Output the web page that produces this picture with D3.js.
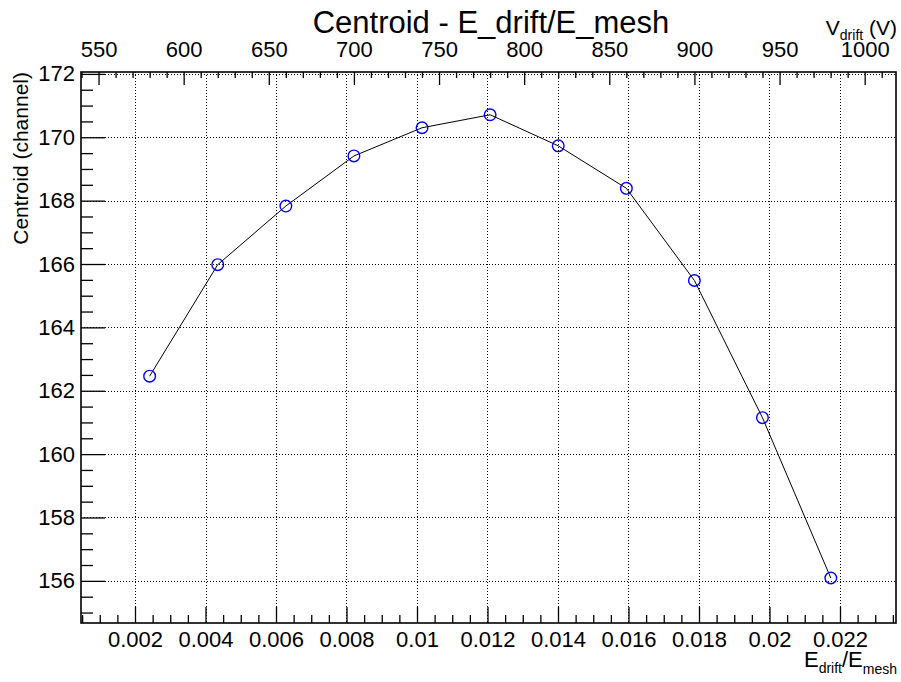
<!DOCTYPE html>
<html>
<head>
<meta charset="utf-8">
<script src="https://cdn.jsdelivr.net/npm/d3@7"></script>
<style>
  html, body { margin: 0; padding: 0; background: #fff; }
  svg { display: block; font-family: "Liberation Sans", Arial, Helvetica, sans-serif; }
</style>
</head>
<body>
<svg id="chart" width="901" height="682"></svg>
<script>
// ---- data ----
const vDrift = [580, 620, 660, 700, 740, 780, 820, 860, 900, 940, 980];
const fieldRatio = [0.002415, 0.004347, 0.006280, 0.008211, 0.010143, 0.012075, 0.014007, 0.015940, 0.017870, 0.019800, 0.021740];
const centroid = [162.46, 165.98, 167.83, 169.41, 170.30, 170.71, 169.73, 168.39, 165.48, 161.15, 156.09];

const xTicks = [0.002, 0.004, 0.006, 0.008, 0.010, 0.012, 0.014, 0.016, 0.018, 0.020, 0.022];
const xTickLabels = ["0.002", "0.004", "0.006", "0.008", "0.01", "0.012", "0.014", "0.016", "0.018", "0.02", "0.022"];
const yTicks = [156, 158, 160, 162, 164, 166, 168, 170, 172];
const yTickLabels = ["156", "158", "160", "162", "164", "166", "168", "170", "172"];
const topTicks = [550, 600, 650, 700, 750, 800, 850, 900, 950, 1000];
const topTickLabels = ["550", "600", "650", "700", "750", "800", "850", "900", "950", "1000"];

const xDomain = [0.000468, 0.023589];
const yDomain = [154.67, 172.06];
const topDomain = [539.7, 1018.4];

// ---- layout ----
const L = 81, R = 896, T = 72, B = 623;
const svg = d3.select("#chart");

const x = d3.scaleLinear().domain(xDomain).range([L, R]);
const y = d3.scaleLinear().domain(yDomain).range([B, T]);
const xt = d3.scaleLinear().domain(topDomain).range([L, R]);

// grid
const grid = svg.append("g").attr("stroke", "#000").attr("stroke-width", 1)
  .attr("stroke-dasharray", "1,2").attr("shape-rendering", "crispEdges");
grid.selectAll("line.gx").data(xTicks).join("line")
  .attr("x1", d => Math.round(x(d)) + 0.5).attr("x2", d => Math.round(x(d)) + 0.5)
  .attr("y1", T).attr("y2", B);
grid.selectAll("line.gy").data(yTicks).join("line")
  .attr("y1", d => Math.round(y(d)) + 0.5).attr("y2", d => Math.round(y(d)) + 0.5)
  .attr("x1", L).attr("x2", R);

// minor tick values
function minorVals(scale, step, majors) {
  const [a, b] = scale.domain();
  const out = [];
  const start = Math.ceil(a / step - 1e-9);
  for (let i = start; i * step <= b + 1e-12; i++) {
    const v = i * step;
    if (!majors.some(m => Math.abs(m - v) < step * 1e-3)) out.push(v);
  }
  return out;
}

function styleAxis(g, fs) {
  g.select(".domain").remove();
  g.selectAll("line").attr("stroke", "#000").attr("stroke-width", 1.3);
  g.selectAll("text").attr("fill", "#000").attr("font-size", fs)
    .attr("font-family", "'Liberation Sans', Arial, sans-serif");
}

// bottom axis
const gxMinor = svg.append("g").attr("transform", `translate(0,${B})`)
  .call(d3.axisBottom(x).tickValues(minorVals(x, 0.0005, xTicks)).tickSize(-8).tickFormat(""));
styleAxis(gxMinor, 22);
const gx = svg.append("g").attr("transform", `translate(0,${B})`)
  .call(d3.axisBottom(x).tickValues(xTicks).tickSize(-16).tickPadding(8)
    .tickFormat((d, i) => xTickLabels[i]));
styleAxis(gx, 22);

// left axis
const gyMinor = svg.append("g").attr("transform", `translate(${L},0)`)
  .call(d3.axisLeft(y).tickValues(minorVals(y, 0.5, yTicks)).tickSize(-12).tickFormat(""));
styleAxis(gyMinor, 22);
const gy = svg.append("g").attr("transform", `translate(${L},0)`)
  .call(d3.axisLeft(y).tickValues(yTicks).tickSize(-24).tickPadding(6)
    .tickFormat((d, i) => yTickLabels[i]));
styleAxis(gy, 22);

// top axis
const gtMinor = svg.append("g").attr("transform", `translate(0,${T})`)
  .call(d3.axisTop(xt).tickValues(minorVals(xt, 10, topTicks)).tickSize(-6).tickFormat(""));
styleAxis(gtMinor, 22);
const gt = svg.append("g").attr("transform", `translate(0,${T})`)
  .call(d3.axisTop(xt).tickValues(topTicks).tickSize(-13).tickPadding(15)
    .tickFormat((d, i) => topTickLabels[i]));
styleAxis(gt, 22);

// frame
svg.append("rect").attr("x", L).attr("y", T).attr("width", R - L).attr("height", B - T)
  .attr("fill", "none").attr("stroke", "#000").attr("stroke-width", 1.6);

// line + markers
const pts = fieldRatio.map((v, i) => [v, centroid[i]]);
svg.append("path").datum(pts)
  .attr("fill", "none").attr("stroke", "#000").attr("stroke-width", 1)
  .attr("d", d3.line().x(d => x(d[0])).y(d => y(d[1])));
svg.append("g").selectAll("circle").data(pts).join("circle")
  .attr("cx", d => x(d[0])).attr("cy", d => y(d[1])).attr("r", 5.8)
  .attr("fill", "none").attr("stroke", "#0000ff").attr("stroke-width", 1.4);

// title
svg.append("text").attr("x", 491).attr("y", 33).attr("text-anchor", "middle")
  .attr("font-size", 31).text("Centroid - E_drift/E_mesh");

// y title
svg.append("text").attr("transform", "translate(28,72) rotate(-90)")
  .attr("text-anchor", "end").attr("font-size", 21).text("Centroid (channel)");

// x title
const xtTxt = svg.append("text").attr("x", 897).attr("y", 667).attr("text-anchor", "end").attr("font-size", 22);
xtTxt.append("tspan").text("E");
xtTxt.append("tspan").attr("font-size", 14).attr("dy", 6).text("drift");
xtTxt.append("tspan").attr("dy", -6).text("/E");
xtTxt.append("tspan").attr("font-size", 14).attr("dy", 7).text("mesh");

// top axis title
const ttTxt = svg.append("text").attr("x", 897).attr("y", 35).attr("text-anchor", "end").attr("font-size", 21);
ttTxt.append("tspan").text("V");
ttTxt.append("tspan").attr("font-size", 14).attr("dy", 5).text("drift");
ttTxt.append("tspan").attr("dy", -5).text(" (V)");
</script>
</body>
</html>
